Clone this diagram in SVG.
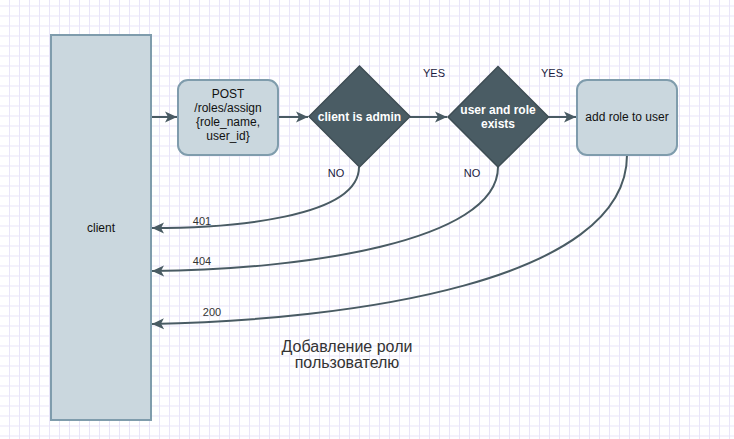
<svg xmlns="http://www.w3.org/2000/svg" width="734" height="439" viewBox="0 0 734 439">
<defs>
<pattern id="grid" x="9" y="5.5" width="10" height="10" patternUnits="userSpaceOnUse">
<path d="M0.5,0 V10 M0,0.5 H10" stroke="#e8e5f8" stroke-width="1" fill="none"/>
</pattern>
<marker id="arr" viewBox="0 0 12 12" refX="12" refY="6" markerWidth="12" markerHeight="12" markerUnits="userSpaceOnUse" orient="auto">
<path d="M0,0.5 L12,6 L0,11.5 L3,6 Z" fill="#495b63"/>
</marker>
<style>
.box{fill:#cad7de;stroke:#7f9cac;stroke-width:2}
.dia{fill:#4a5c64;stroke:#3e4d54;stroke-width:1.5}
.t{font-family:"Liberation Sans",Arial,sans-serif;font-size:12px;fill:#111;text-anchor:middle}
.tw{font-family:"Liberation Sans",Arial,sans-serif;font-size:12px;fill:#fff;text-anchor:middle;font-weight:bold}
.lbl{font-family:"Liberation Sans",Arial,sans-serif;font-size:11px;fill:#333;text-anchor:middle}
.yn{font-family:"Liberation Sans",Arial,sans-serif;font-size:11px;fill:#1a1a40;text-anchor:middle}
.title{font-family:"Liberation Sans",Arial,sans-serif;font-size:16px;fill:#333;text-anchor:middle}
.edge{fill:none;stroke:#495b63;stroke-width:2;marker-end:url(#arr)}
</style>
</defs>
<rect width="734" height="439" fill="#ffffff"/>
<rect width="734" height="439" fill="url(#grid)"/>

<g id="connectors">
<path class="edge" d="M151,117 H177"/>
<path class="edge" d="M278,117 H308"/>
<path class="edge" d="M410,117 H447"/>
<path class="edge" d="M548,117 H576"/>
<path class="edge" d="M359,167 C359,218 230,228 152,228"/>
<path class="edge" d="M498,167 C498,242 300,270 152,271"/>
<path class="edge" d="M627,155 C627,282 350,320 152,324"/>
<text class="yn" x="434" y="77">YES</text>
<text class="yn" x="552" y="77">YES</text>
<text class="yn" x="336" y="177">NO</text>
<text class="yn" x="472" y="177">NO</text>
<text class="lbl" x="202" y="225">401</text>
<text class="lbl" x="202" y="265">404</text>
<text class="lbl" x="212" y="316">200</text>
</g>

<g id="client">
<rect class="box" x="51" y="35" width="100" height="385"/>
<text class="t" x="101" y="232">client</text>
</g>

<g id="post">
<rect class="box" x="178" y="80" width="100" height="75" rx="10"/>
<text class="t" x="228" y="98">POST</text>
<text class="t" x="228" y="112">/roles/assign</text>
<text class="t" x="228" y="126">{role_name,</text>
<text class="t" x="228" y="140">user_id}</text>
</g>

<g id="is_admin">
<path class="dia" d="M359.5,66 L410,116.5 L359.5,167 L309,116.5 Z"/>
<text class="tw" x="359.5" y="121">client is admin</text>
</g>

<g id="exists">
<path class="dia" d="M498,66.5 L548.5,117 L498,167 L448,117 Z"/>
<text class="tw" x="498" y="114">user and role</text>
<text class="tw" x="498" y="128">exists</text>
</g>

<g id="add_role">
<rect class="box" x="577" y="80" width="100" height="75" rx="10"/>
<text class="t" x="627" y="121">add role to user</text>
</g>

<g id="title">
<text class="title" x="347" y="352">Добавление роли</text>
<text class="title" x="347" y="368">пользователю</text>
</g>
</svg>
